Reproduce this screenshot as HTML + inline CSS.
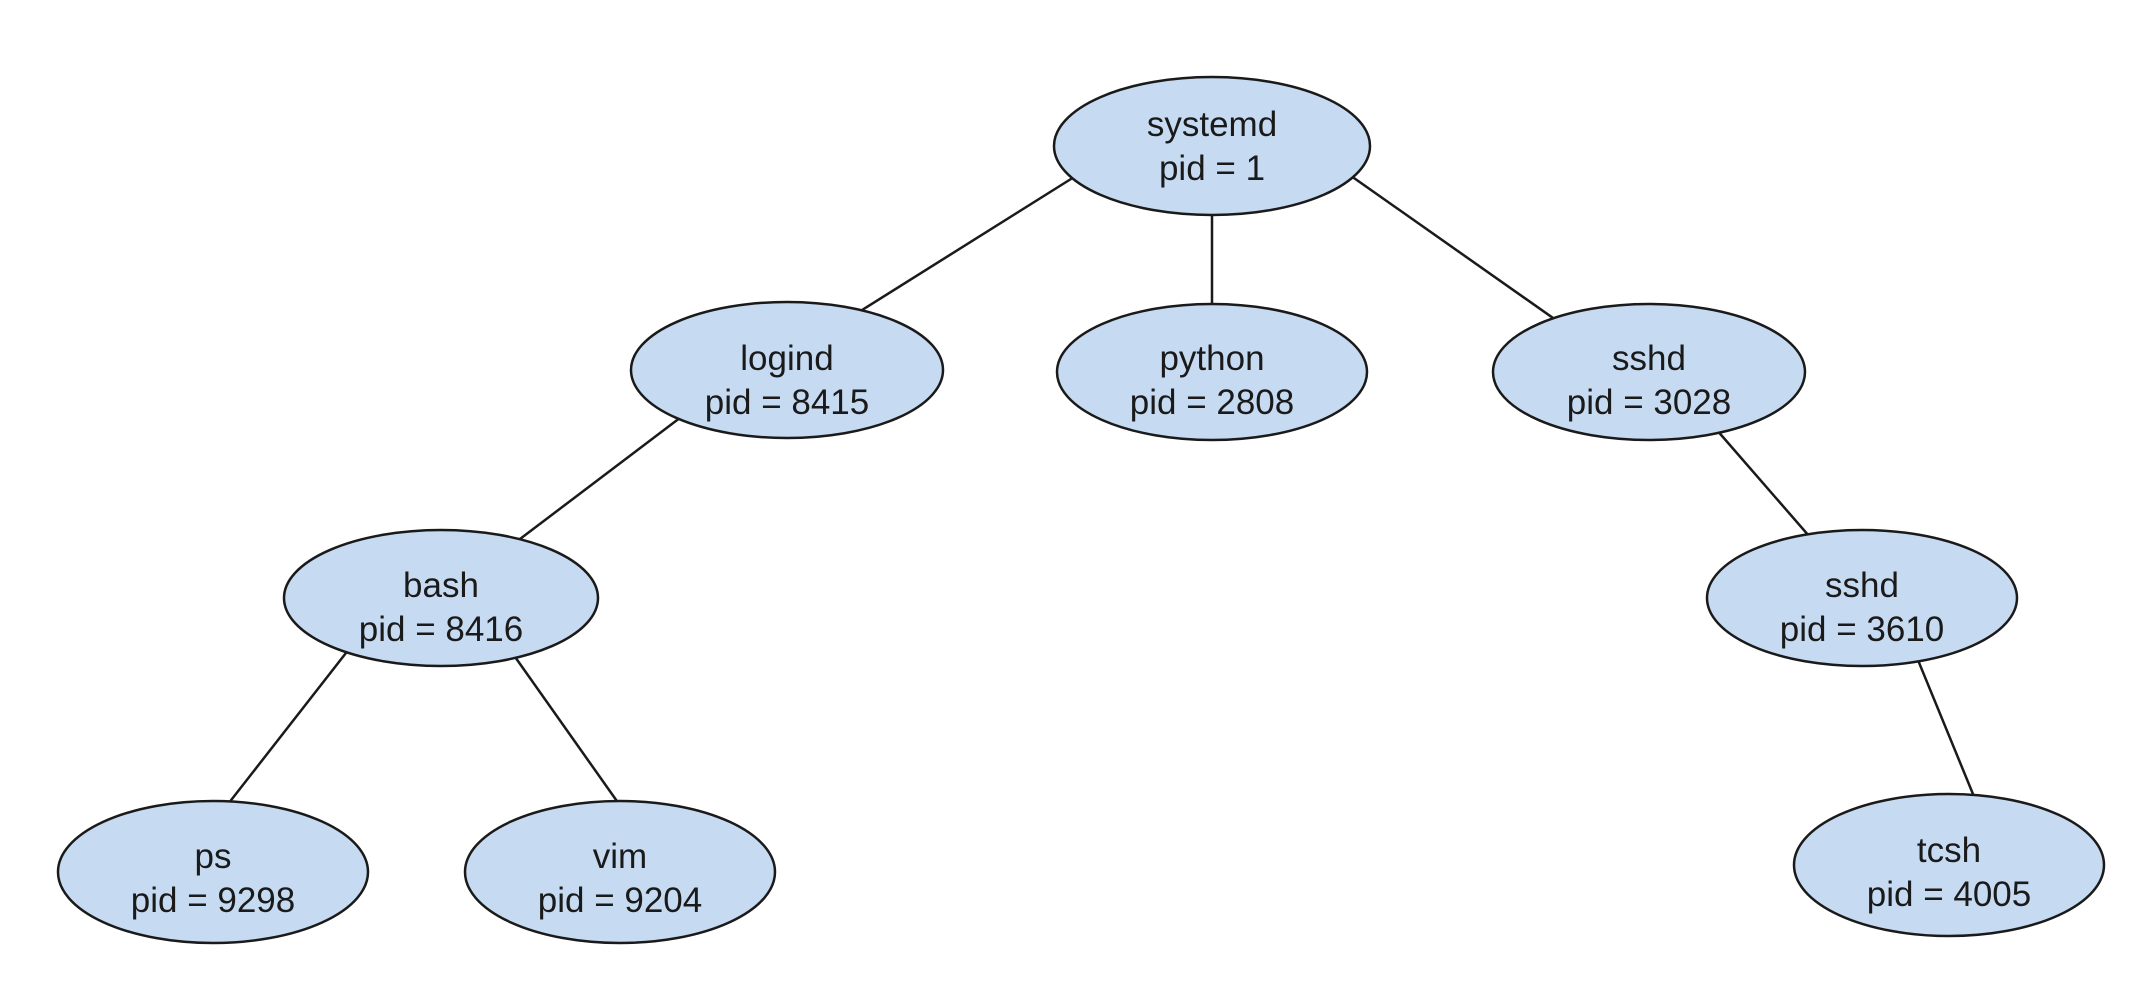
<!DOCTYPE html>
<html><head><style>body{margin:0;background:#fff}svg{display:block}</style></head><body>
<svg width="2142" height="990" viewBox="0 0 2142 990" xmlns="http://www.w3.org/2000/svg">
<g stroke="#1a1a1a" stroke-width="2.5">
<line x1="1106" y1="157" x2="827" y2="332"/>
<line x1="1212" y1="200" x2="1212" y2="330"/>
<line x1="1317" y1="152" x2="1590" y2="344"/>
<line x1="693" y1="408" x2="487" y2="564"/>
<line x1="360" y1="635" x2="207" y2="831"/>
<line x1="496" y1="630" x2="631" y2="821"/>
<line x1="1709" y1="421" x2="1836" y2="567"/>
<line x1="1904" y1="626" x2="1982" y2="816"/>
</g>
<g fill="#c6dbf2" stroke="#1a1a1a" stroke-width="2.5">
<ellipse cx="1212" cy="146" rx="158" ry="69"/>
<ellipse cx="787" cy="370" rx="156" ry="68"/>
<ellipse cx="1212" cy="372" rx="155" ry="68"/>
<ellipse cx="1649" cy="372" rx="156" ry="68"/>
<ellipse cx="441" cy="598" rx="157" ry="68"/>
<ellipse cx="1862" cy="598" rx="155" ry="68"/>
<ellipse cx="213" cy="872" rx="155" ry="71"/>
<ellipse cx="620" cy="872" rx="155" ry="71"/>
<ellipse cx="1949" cy="865" rx="155" ry="71"/>
</g>
<g font-family="Liberation Sans, sans-serif" font-size="35" fill="#1a1a1a" text-anchor="middle">
<text x="1212" y="136">systemd</text><text x="1212" y="180">pid = 1</text>
<text x="787" y="370">logind</text><text x="787" y="414">pid = 8415</text>
<text x="1212" y="370">python</text><text x="1212" y="414">pid = 2808</text>
<text x="1649" y="370">sshd</text><text x="1649" y="414">pid = 3028</text>
<text x="441" y="597">bash</text><text x="441" y="641">pid = 8416</text>
<text x="1862" y="597">sshd</text><text x="1862" y="641">pid = 3610</text>
<text x="213" y="868">ps</text><text x="213" y="912">pid = 9298</text>
<text x="620" y="868">vim</text><text x="620" y="912">pid = 9204</text>
<text x="1949" y="862">tcsh</text><text x="1949" y="906">pid = 4005</text>
</g>
</svg>
</body></html>
